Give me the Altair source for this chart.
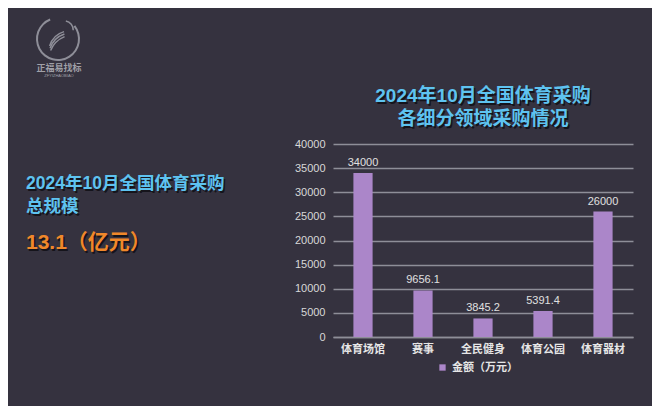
import altair as alt
import pandas as pd

categories = ["体育场馆", "赛事", "全民健身", "体育公园", "体育器材"]
values = [34000, 9656.1, 3845.2, 5391.4, 26000]
value_labels = ["34000", "9656.1", "3845.2", "5391.4", "26000"]
series_name = "金额（万元）"
y_ticks = [0, 5000, 10000, 15000, 20000, 25000, 30000, 35000, 40000]

title_lines = ["2024年10月全国体育采购", "各细分领域采购情况"]
left_lines = ["2024年10月全国体育采购", "总规模"]
big_text = "13.1（亿元）"
logo_cn = "正福易找标"
logo_en = "ZFYIZHAOBIAO"

BG = "#35323f"
BAR = "#ab86c9"
BLUE = "#5ec3f0"
ORANGE = "#f0882a"
GREY = "#8e8e98"
FONT = "Liberation Sans, Noto Sans CJK SC, sans-serif"

PAD_L, PAD_T = 325, 136
W, H = 300, 193
OX, OY = 8 + PAD_L, 8 + PAD_T  # page position of plot origin

df = pd.DataFrame({"cat": categories, "val": values, "lab": value_labels,
                   "series": [series_name] * len(categories)})

x_axis = alt.Axis(labelAngle=0, labelColor="#e6e6e6", labelFontSize=11,
                  labelFont=FONT, labelFontWeight="bold", ticks=False,
                  domain=True, domainColor=GREY, domainWidth=1.5,
                  labelPadding=6)
y_axis = alt.Axis(values=y_ticks, format="d", labelColor="#d8d8d8",
                  labelFontSize=11, labelFont=FONT, ticks=False,
                  domain=False, gridColor=GREY, gridWidth=1.5,
                  labelPadding=8, labelOverlap=False, labelFlush=False)
x_scale = alt.Scale(paddingInner=0.68, paddingOuter=0.34)
y_scale = alt.Scale(domain=[0, 40000])

base = alt.Chart(df)

bars = base.mark_bar(color=BAR).encode(
    x=alt.X("cat:N", sort=categories, title=None, scale=x_scale, axis=x_axis),
    y=alt.Y("val:Q", title=None, scale=y_scale, axis=y_axis),
    color=alt.Color("series:N", scale=alt.Scale(range=[BAR]), title=None,
                    legend=alt.Legend(orient="none", legendX=104, legendY=218,
                                      symbolType="square", symbolSize=40,
                                      labelColor="#e6e6e6", labelFontSize=11,
                                      labelFont=FONT, labelFontWeight="bold",
                                      symbolStrokeWidth=0)),
)

bar_labels = base.mark_text(baseline="bottom", dy=-5, fontSize=11, font=FONT,
                            color="#e0e0e0").encode(
    x=alt.X("cat:N", sort=categories, title=None, scale=x_scale, axis=x_axis),
    y=alt.Y("val:Q", title=None, scale=y_scale, axis=y_axis),
    text="lab:N",
)

one = pd.DataFrame({"k": [0]})


def txt(text, x, y, size, color, weight="bold", align="left", shadow=False):
    layers = []
    if shadow:
        layers.append(alt.Chart(one).mark_text(
            text=text, fontSize=size, font=FONT, fontWeight=weight, align=align,
            baseline="middle", color="#15141b").encode(
            x=alt.value(x - OX + 1.5), y=alt.value(y - OY + 1.5)))
    layers.append(alt.Chart(one).mark_text(
        text=text, fontSize=size, font=FONT, fontWeight=weight, align=align,
        baseline="middle", color=color).encode(
        x=alt.value(x - OX), y=alt.value(y - OY)))
    return layers


texts = []
texts += txt(title_lines[0], 483, 96, 19, BLUE, align="center", shadow=True)
texts += txt(title_lines[1], 483, 119, 19, BLUE, align="center", shadow=True)
texts += txt(left_lines[0], 26, 184, 17.5, BLUE, shadow=True)
texts += txt(left_lines[1], 26, 207, 17.5, BLUE, shadow=True)
texts += txt(big_text, 26, 243, 21, ORANGE, shadow=True)
texts += txt(logo_cn, 59, 68, 9, "#a0a0a8", align="center")
texts += txt(logo_en, 59, 76, 4, "#a0a0a8", weight="normal", align="center")


def arc(cx, cy, r, w, t1, t2, color=GREY):
    return alt.Chart(one).mark_arc(radius=r, radius2=r - w, theta=t1, theta2=t2,
                                   color=color).encode(
        x=alt.value(cx - OX), y=alt.value(cy - OY))


logo = [
    arc(58, 39, 22, 2, 0.9, 5.9),
    arc(70, 52, 22, 1.5, 5.0, 6.0),
    arc(72, 56, 24, 1.5, 5.05, 5.95),
    arc(74, 60, 26, 1.5, 5.1, 5.9),
    arc(64, 30, 10, 1.5, 0.2, 1.6),
]

chart = alt.layer(bars, bar_labels, *logo, *texts).properties(
    width=W, height=H,
    autosize=alt.AutoSizeParams(type="none"),
    padding={"left": PAD_L, "top": PAD_T, "right": 644 - PAD_L - W,
             "bottom": 398 - PAD_T - H},
    background=BG,
).configure_view(stroke=None)

chart.save("out.html", embed_options={"renderer": "svg", "actions": False})
